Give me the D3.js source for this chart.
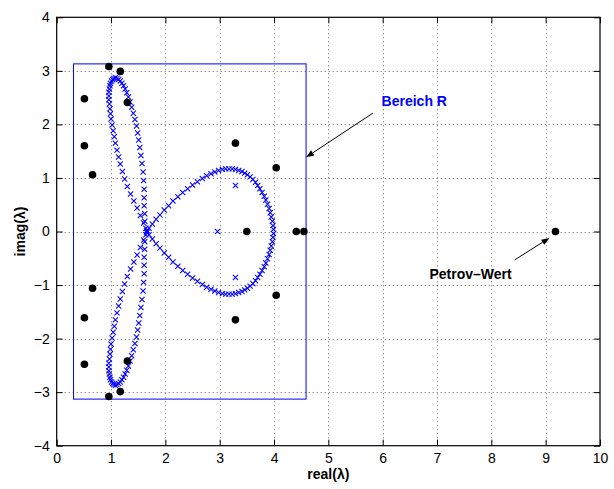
<!DOCTYPE html>
<html><head><meta charset="utf-8">
<script src="https://d3js.org/d3.v7.min.js"></script>
<style>
body{margin:0;background:#fff;}
svg{display:block;font-family:"Liberation Sans",Arial,Helvetica,sans-serif;}
</style></head>
<body><svg id="c" width="614" height="489"></svg>
<script>
// ---- data ----
const xTicks = [0,1,2,3,4,5,6,7,8,9,10];
const yTicks = [-4,-3,-2,-1,0,1,2,3,4];

// eigenvalue locus (blue x), upper half
const petalUpperOuter = [[1.66,0.02],[1.60,0.16],[1.54,0.30],[1.48,0.44],[1.42,0.57],[1.36,0.70],[1.30,0.84],[1.25,0.98],[1.21,1.12],[1.17,1.26],[1.14,1.39],[1.11,1.52],[1.08,1.65],[1.06,1.77],[1.04,1.88],[1.02,1.99],[1.00,2.10],[0.99,2.20],[0.98,2.29],[0.97,2.38],[0.96,2.46],[0.96,2.53],[0.96,2.60],[0.97,2.66],[0.98,2.72],[0.99,2.77],[1.01,2.81],[1.03,2.84],[1.05,2.86]];
const petalUpperInner = [[1.08,2.87],[1.11,2.86],[1.14,2.84],[1.17,2.81],[1.20,2.77],[1.23,2.72],[1.26,2.66],[1.29,2.59],[1.32,2.51],[1.35,2.42],[1.38,2.32],[1.41,2.21],[1.44,2.09],[1.47,1.97],[1.49,1.84],[1.51,1.71],[1.53,1.57],[1.55,1.42],[1.57,1.27],[1.59,1.11],[1.60,0.95],[1.61,0.79],[1.61,0.63],[1.61,0.48],[1.62,0.33],[1.62,0.19],[1.64,0.06]];
const lobeUpper = [[1.70,0.06],[1.76,0.14],[1.83,0.23],[1.90,0.31],[1.98,0.40],[2.06,0.48],[2.14,0.57],[2.23,0.65],[2.32,0.73],[2.41,0.80],[2.50,0.87],[2.59,0.93],[2.68,0.99],[2.76,1.04],[2.84,1.08],[2.91,1.11],[2.98,1.14],[3.05,1.16],[3.11,1.17],[3.17,1.17],[3.23,1.17],[3.29,1.16],[3.35,1.14],[3.41,1.12],[3.46,1.09],[3.51,1.06],[3.56,1.02],[3.61,0.97],[3.66,0.92],[3.70,0.86],[3.74,0.80],[3.78,0.73],[3.82,0.66],[3.85,0.59],[3.88,0.51],[3.91,0.43],[3.93,0.35],[3.95,0.27],[3.97,0.19],[3.98,0.11],[3.99,0.04]];
// lower half (complex conjugates)
const petalLowerOuter = [[1.66,-0.02],[1.60,-0.16],[1.54,-0.30],[1.48,-0.44],[1.42,-0.57],[1.36,-0.70],[1.30,-0.84],[1.25,-0.98],[1.21,-1.12],[1.17,-1.26],[1.14,-1.39],[1.11,-1.52],[1.08,-1.65],[1.06,-1.77],[1.04,-1.88],[1.02,-1.99],[1.00,-2.10],[0.99,-2.20],[0.98,-2.29],[0.97,-2.38],[0.96,-2.46],[0.96,-2.53],[0.96,-2.60],[0.97,-2.66],[0.98,-2.72],[0.99,-2.77],[1.01,-2.81],[1.03,-2.84],[1.05,-2.86]];
const petalLowerInner = [[1.08,-2.87],[1.11,-2.86],[1.14,-2.84],[1.17,-2.81],[1.20,-2.77],[1.23,-2.72],[1.26,-2.66],[1.29,-2.59],[1.32,-2.51],[1.35,-2.42],[1.38,-2.32],[1.41,-2.21],[1.44,-2.09],[1.47,-1.97],[1.49,-1.84],[1.51,-1.71],[1.53,-1.57],[1.55,-1.42],[1.57,-1.27],[1.59,-1.11],[1.60,-0.95],[1.61,-0.79],[1.61,-0.63],[1.61,-0.48],[1.62,-0.33],[1.62,-0.19],[1.64,-0.06]];
const lobeLower = [[1.70,-0.06],[1.76,-0.14],[1.83,-0.23],[1.90,-0.31],[1.98,-0.40],[2.06,-0.48],[2.14,-0.57],[2.23,-0.65],[2.32,-0.73],[2.41,-0.80],[2.50,-0.87],[2.59,-0.93],[2.68,-0.99],[2.76,-1.04],[2.84,-1.08],[2.91,-1.11],[2.98,-1.14],[3.05,-1.16],[3.11,-1.17],[3.17,-1.17],[3.23,-1.17],[3.29,-1.16],[3.35,-1.14],[3.41,-1.12],[3.46,-1.09],[3.51,-1.06],[3.56,-1.02],[3.61,-0.97],[3.66,-0.92],[3.70,-0.86],[3.74,-0.80],[3.78,-0.73],[3.82,-0.66],[3.85,-0.59],[3.88,-0.51],[3.91,-0.43],[3.93,-0.35],[3.95,-0.27],[3.97,-0.19],[3.98,-0.11],[3.99,-0.04]];
const isolatedX = [[1.66,0.0],[2.96,0.0],[3.29,0.86],[3.29,-0.86]];

// black dots
const dots = [[0.96,3.08],[1.17,2.99],[1.30,2.41],[0.51,2.48],[0.51,1.60],[0.66,1.06],[3.29,1.65],[4.04,1.19],
              [3.50,0],[4.41,0],[4.55,0],[9.18,0],
              [0.96,-3.08],[1.17,-2.99],[1.30,-2.42],[0.51,-2.48],[0.51,-1.61],[0.66,-1.06],[3.29,-1.65],[4.04,-1.19]];

// region R: [xmin, xmax, ymin, ymax]
const regionR = [0.31, 4.59, -3.13, 3.13];

// annotations
const labels = ["Bereich R", "Petrov–Wert"];
const labelPos = [[5.98, 2.35], [6.86, -0.88]];
const arrows = [[5.82, 2.21, 4.59, 1.386], [8.43, -0.53, 9.07, -0.12]];
const labelColors = ["#0000ff", "#000000"];

// ---- drawing ----
const W = 614, H = 489;
const m = {l:56.7, r:14, t:17.3, b:43.3};
const svg = d3.select("#c");
const x = d3.scaleLinear().domain([0,10]).range([m.l, W-m.r]);
const y = d3.scaleLinear().domain([-4,4]).range([H-m.b, m.t]);
const x0 = x(0), x1 = x(10), y0 = y(-4), y1 = y(4);

// grid
const grid = svg.append("g").attr("stroke","#444").attr("stroke-width",0.8).attr("stroke-dasharray","1,3");
grid.selectAll(".gx").data(xTicks.slice(1,-1)).join("line")
  .attr("x1",d=>Math.round(x(d))+0.5).attr("x2",d=>Math.round(x(d))+0.5).attr("y1",y1).attr("y2",y0);
grid.selectAll(".gy").data(yTicks.slice(1,-1)).join("line")
  .attr("y1",d=>Math.round(y(d))+0.5).attr("y2",d=>Math.round(y(d))+0.5).attr("x1",x0).attr("x2",x1);

// axes
const fmt = d3.format("");
function styleAxis(g, showText){
  g.select(".domain").remove();
  g.selectAll(".tick line").attr("stroke","#000");
  g.selectAll("text").attr("font-size","14px").attr("fill","#000")
    .attr("font-family","'Liberation Sans',Arial,sans-serif");
  if(!showText) g.selectAll("text").remove();
}
svg.append("g").attr("transform",`translate(0,${y0})`)
  .call(d3.axisBottom(x).tickValues(xTicks).tickFormat(fmt).tickSizeInner(-6).tickSizeOuter(0).tickPadding(7))
  .call(g=>styleAxis(g,true));
svg.append("g").attr("transform",`translate(0,${y1})`)
  .call(d3.axisTop(x).tickValues(xTicks).tickSizeInner(-6).tickSizeOuter(0))
  .call(g=>styleAxis(g,false));
svg.append("g").attr("transform",`translate(${x0},0)`)
  .call(d3.axisLeft(y).tickValues(yTicks).tickFormat(fmt).tickSizeInner(-6).tickSizeOuter(0).tickPadding(7))
  .call(g=>styleAxis(g,true));
svg.append("g").attr("transform",`translate(${x1},0)`)
  .call(d3.axisRight(y).tickValues(yTicks).tickSizeInner(-6).tickSizeOuter(0))
  .call(g=>styleAxis(g,false));

// box
svg.append("rect").attr("x",x0).attr("y",y1).attr("width",x1-x0).attr("height",y0-y1)
  .attr("fill","none").attr("stroke","#000").attr("stroke-width",1.2);

// region R
svg.append("rect").attr("x",x(regionR[0])).attr("y",y(regionR[3]))
  .attr("width",x(regionR[1])-x(regionR[0])).attr("height",y(regionR[2])-y(regionR[3]))
  .attr("fill","none").attr("stroke","#0000ff").attr("stroke-width",1);

// blue x markers
const allX = [].concat(petalUpperOuter,petalUpperInner,lobeUpper,petalLowerOuter,petalLowerInner,lobeLower,isolatedX);
const s = 2.6;
svg.append("g").attr("stroke","#0000ff").attr("stroke-width",1.05).attr("fill","none")
  .selectAll("path").data(allX).join("path")
  .attr("d",d=>{const cx=x(d[0]), cy=y(d[1]);
    return `M${cx-s},${cy-s}L${cx+s},${cy+s}M${cx-s},${cy+s}L${cx+s},${cy-s}`;});

// black dots
svg.append("g").selectAll("circle").data(dots).join("circle")
  .attr("cx",d=>x(d[0])).attr("cy",d=>y(d[1])).attr("r",3.8).attr("fill","#000");

// arrows
arrows.forEach(a=>{
  const fx=x(a[0]), fy=y(a[1]), tx=x(a[2]), ty=y(a[3]);
  const ang=Math.atan2(ty-fy,tx-fx), L=8, Wd=3;
  const bx=tx-L*Math.cos(ang), by=ty-L*Math.sin(ang);
  svg.append("line").attr("x1",fx).attr("y1",fy).attr("x2",bx).attr("y2",by)
    .attr("stroke","#000").attr("stroke-width",1);
  const px=-Math.sin(ang), py=Math.cos(ang);
  svg.append("path").attr("d",`M${tx},${ty}L${bx+px*Wd},${by+py*Wd}L${bx-px*Wd},${by-py*Wd}Z`)
    .attr("fill","#000");
});

// annotation labels
svg.append("g").selectAll("text").data(labels).join("text")
  .attr("x",(d,i)=>x(labelPos[i][0])).attr("y",(d,i)=>y(labelPos[i][1]))
  .attr("fill",(d,i)=>labelColors[i]).attr("font-size","14px").attr("font-weight","bold")
  .text(d=>d);

// axis labels
svg.append("text").attr("x",(x0+x1)/2).attr("y",479).attr("text-anchor","middle")
  .attr("font-size","14px").attr("font-weight","bold").text("real(λ)");
svg.append("text").attr("transform",`translate(25,${(y0+y1)/2}) rotate(-90)`).attr("text-anchor","middle")
  .attr("font-size","14px").attr("font-weight","bold").text("imag(λ)");
</script></body></html>
